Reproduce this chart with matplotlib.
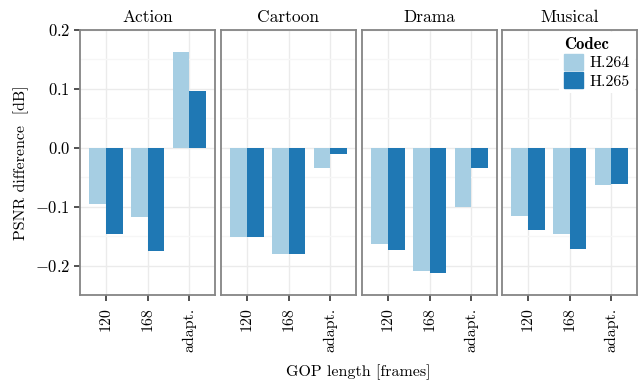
import numpy as np
import matplotlib
matplotlib.use("Agg")
import matplotlib.pyplot as plt
from matplotlib.patches import Patch

plt.rcParams["font.family"] = "serif"
plt.rcParams["font.serif"] = ["cmr10"]
plt.rcParams["mathtext.fontset"] = "cm"
plt.rcParams["axes.unicode_minus"] = False

genres = ["Action", "Cartoon", "Drama", "Musical"]
gop = ["120", "168", "adapt."]
codecs = ["H.264", "H.265"]
colors = ["#a6cee3", "#1f78b4"]

# PSNR difference [dB] per genre, GOP length order: 120, 168, adapt.
h264 = {
    "Action":  [-0.096, -0.118, 0.162],
    "Cartoon": [-0.152, -0.181, -0.035],
    "Drama":   [-0.164, -0.210, -0.101],
    "Musical": [-0.115, -0.147, -0.064],
}
h265 = {
    "Action":  [-0.147, -0.176, 0.097],
    "Cartoon": [-0.152, -0.181, -0.010],
    "Drama":   [-0.174, -0.213, -0.035],
    "Musical": [-0.140, -0.172, -0.062],
}

yticks = [-0.2, -0.1, 0.0, 0.1, 0.2]
ytick_labels = [r"$-0.2$", r"$-0.1$", r"$0.0$", r"$0.1$", r"$0.2$"]

W, H = 644, 387
fig = plt.figure(figsize=(W / 100, H / 100), dpi=100)

lefts = [80, 221, 362, 502]
pw, top, bottom = 135, 30, 295
x = np.arange(len(gop))
bw = 0.4

for i, g in enumerate(genres):
    ax = fig.add_axes([lefts[i] / W, (H - bottom) / H, pw / W, (bottom - top) / H])
    ax.set_xlim(-0.62, 2.62)
    ax.set_ylim(-0.25, 0.2)
    ax.set_yticks([-0.15, -0.05, 0.05, 0.15], minor=True)
    ax.grid(which="major", color="#ebebeb", linewidth=1.0)
    ax.grid(which="minor", axis="y", color="#f6f6f6", linewidth=1.0)
    ax.set_axisbelow(True)
    ax.bar(x - bw / 2, h264[g], width=bw, color=colors[0], label=codecs[0])
    ax.bar(x + bw / 2, h265[g], width=bw, color=colors[1], label=codecs[1])
    ax.set_xticks(x)
    ax.set_xticklabels(gop, rotation=90, fontsize=11.5)
    ax.set_yticks(yticks)
    ax.tick_params(axis="both", which="major", length=4.5, width=1.2, color="#333333")
    ax.tick_params(axis="x", pad=4.5)
    ax.tick_params(axis="y", pad=2.5)
    ax.tick_params(axis="both", which="minor", length=0)
    if i == 0:
        ax.set_yticklabels(ytick_labels, fontsize=12)
        ax.set_ylabel("PSNR difference  [dB]", fontsize=11.5, labelpad=4)
    else:
        ax.set_yticklabels([])
        ax.tick_params(axis="y", which="both", length=0)
    for s in ax.spines.values():
        s.set_color("#858585")
        s.set_linewidth(1.3)
    ax.set_title(g, fontsize=12.5, pad=6)
    if g == "Musical":
        handles = [Patch(color=c, label=l) for c, l in zip(colors, codecs)]
        leg = ax.legend(handles=handles, title="Codec", loc="upper right",
                        frameon=True, fontsize=11.5, handlelength=1.2,
                        handleheight=1.2, handletextpad=0.4, labelspacing=0.1,
                        borderaxespad=0.15, borderpad=0.3,
                        title_fontproperties={"family": "cmb10", "size": 12})
        leg.get_frame().set_edgecolor("none")
        leg.get_frame().set_facecolor("white")
        leg.get_frame().set_alpha(1.0)
        leg._legend_box.align = "left"

fig.text((80 + 637) / 2 / W, 1 - 372 / H, "GOP length [frames]", ha="center",
         va="center", fontsize=11.5)

fig.savefig("out.png", dpi=100)
